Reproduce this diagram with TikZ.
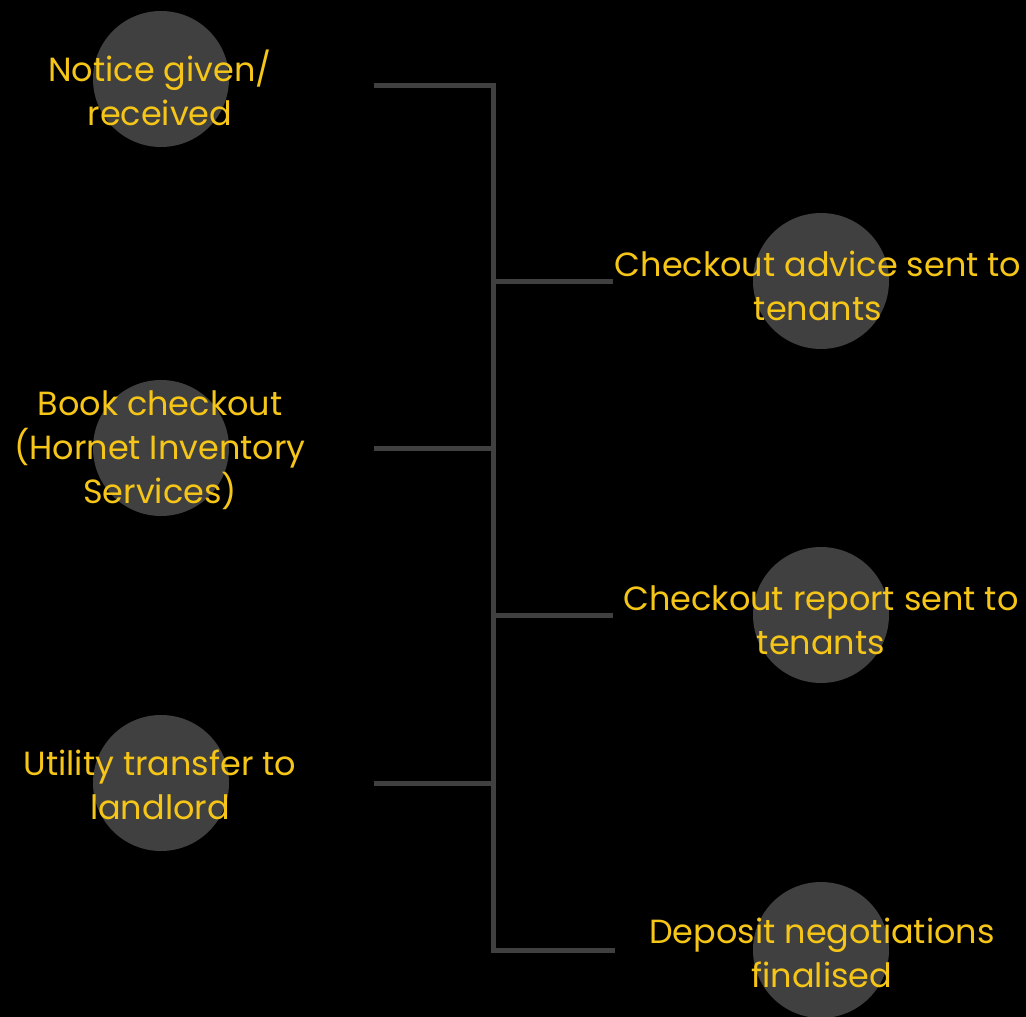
\documentclass[tikz,border=0pt]{standalone}
\usepackage{fontspec}
\setmainfont{Poppins}
\usepackage{tikz}
\usetikzlibrary{positioning}
\definecolor{stepgold}{HTML}{F5C518}
\definecolor{stepgrey}{HTML}{404040}

\begin{document}
\begin{tikzpicture}[x=1pt,y=-1pt,
    disc/.style={circle,fill=stepgrey,minimum size=136pt,inner sep=0pt},
    caption/.style={text=stepgold,align=center,font=\fontsize{33.5}{44}\selectfont},
    wire/.style={draw=stepgrey,line width=5pt}]
    \fill[black] (0,0) rectangle (1026,1017);
    \useasboundingbox (0,0) rectangle (1026,1017);
    \node [disc] (notice) at (161,79) {};
    \node [disc] (book) at (161,448) {};
    \node [disc] (utility) at (161,783) {};
    \node [disc] (advice) at (821,281) {};
    \node [disc] (report) at (821,615) {};
    \node [disc] (deposit) at (821,950) {};
    \node [caption] (noticet) at (160,88) {Notice given/\\received};
    \node [caption] (bookt) at (160,450) {Book checkout\\(Hornet Inventory\\Services)};
    \node [caption] (utilityt) at (160,785) {Utility transfer to\\landlord};
    \node [caption] (advicet) at (818,286) {Checkout advice sent to\\tenants};
    \node [caption] (reportt) at (821,620) {Checkout report sent to\\tenants};
    \node [caption] (depositt) at (822,953) {Deposit negotiations\\finalised};
    \coordinate (top) at (493,85);
    \coordinate (bottom) at (493,950);
    \coordinate (noticee) at (374,85);
    \coordinate (booke) at (374,448);
    \coordinate (utilitye) at (374,783);
    \coordinate (advicee) at (613,281);
    \coordinate (reporte) at (613,615);
    \coordinate (deposite) at (615,950);
    \draw [wire] (noticee) -- (top) -- (bottom) -- (deposite);
    \draw [wire] (booke) -- (booke -| top);
    \draw [wire] (utilitye) -- (utilitye -| top);
    \draw [wire] (advicee -| top) -- (advicee);
    \draw [wire] (reporte -| top) -- (reporte);
  \end{tikzpicture}
\end{document}
